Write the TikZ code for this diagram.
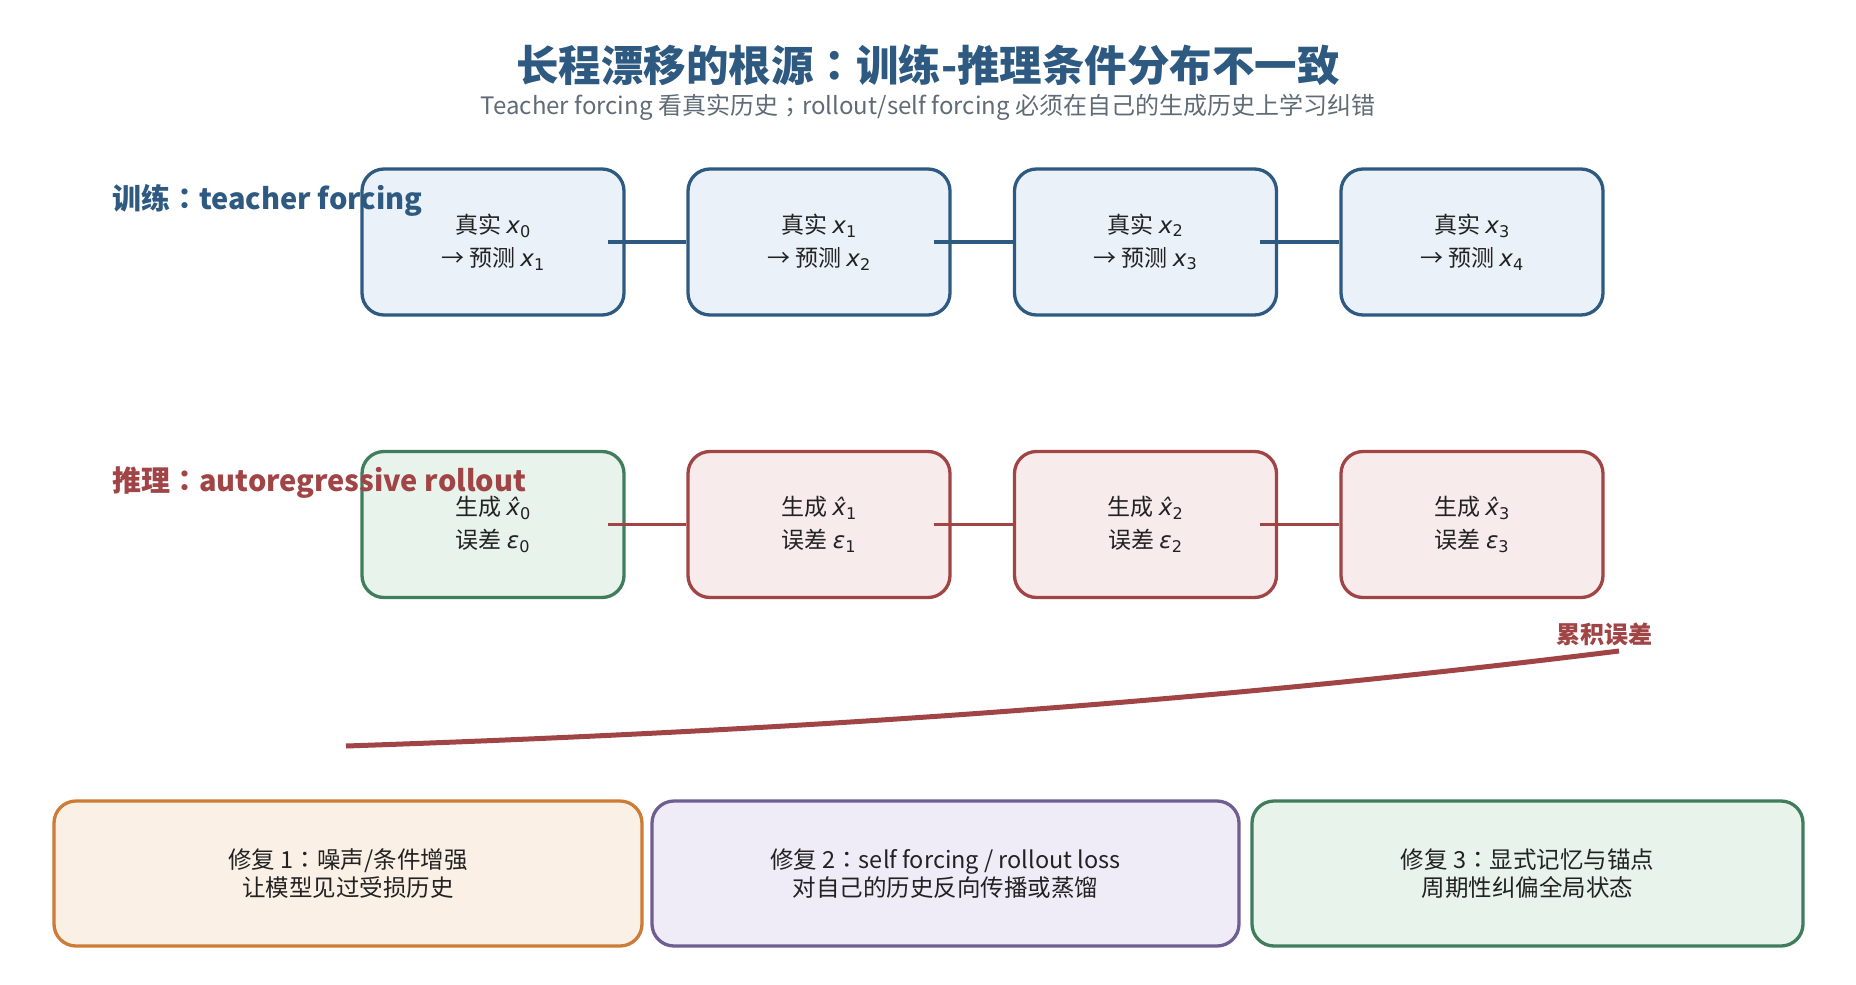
\documentclass[tikz,border=0pt]{standalone}
\usepackage{fontspec}
\setmainfont{Noto Sans CJK SC}
\newfontfamily\tcf{Noto Sans CJK TC}
\newfontfamily\dvs{DejaVu Sans}
\usetikzlibrary{arrows.meta}
\definecolor{tblue}{HTML}{2E5A82}
\definecolor{subgray}{HTML}{5F6B76}
\definecolor{tred}{HTML}{A04446}
\definecolor{bluefill}{HTML}{EAF1F8}
\definecolor{tgreen}{HTML}{3F7D5C}
\definecolor{greenfill}{HTML}{E8F3EB}
\definecolor{redfill}{HTML}{F8EBEB}
\definecolor{torange}{HTML}{CE7B35}
\definecolor{orangefill}{HTML}{FAF0E6}
\definecolor{tpurple}{HTML}{6E5E92}
\definecolor{purplefill}{HTML}{EFECF7}
\definecolor{txt}{HTML}{222222}
\newcommand{\vx}[1]{{\dvs\itshape x}\textsubscript{\dvs #1}}
\newcommand{\hx}[1]{{\dvs\itshape x̂}\textsubscript{\dvs #1}}
\newcommand{\veps}[1]{{\dvs\itshape ε}\textsubscript{\dvs #1}}
\newcommand{\myco}{{\tcf ：}}
\newcommand{\mysc}{{\tcf ；}}
\tikzset{
  stepbox/.style={draw, line width=3.3pt, rounded corners=22pt, minimum width=262pt, minimum height=146pt, inner sep=0pt, align=center, text=txt, font=\fontsize{23}{33}\selectfont},
  fixbox/.style={draw, line width=3.3pt, rounded corners=22pt, minimum height=145pt, inner sep=0pt, align=center, text=txt, font=\fontsize{23.5}{28}\selectfont},
  conn/.style={line width=3.5pt},
  rowlabel/.style={anchor=west, inner sep=0pt, font=\fontsize{29}{32}\selectfont\bfseries},
}
\begin{document}
\begin{tikzpicture}[x=1pt, y=-1pt]
\useasboundingbox (0,0) rectangle (1856,985);

\node[font=\fontsize{42.5}{46}\selectfont\bfseries, text=tblue] (title) at (928,65) {长程漂移的根源\myco 训练-推理条件分布不一致};
\node[font=\fontsize{24}{26}\selectfont, text=subgray] (sub) at (928,107) {Teacher forcing 看真实历史\mysc rollout/self forcing 必须在自己的生成历史上学习纠错};

% top row
\node[stepbox, tblue, fill=bluefill, text=txt] (t0) at (493,242) {真实 \vx{0}\\→ 预测 \vx{1}};
\node[stepbox, tblue, fill=bluefill, text=txt] (t1) at (819,242) {真实 \vx{1}\\→ 预测 \vx{2}};
\node[stepbox, tblue, fill=bluefill, text=txt] (t2) at (1145.5,242) {真实 \vx{2}\\→ 预测 \vx{3}};
\node[stepbox, tblue, fill=bluefill, text=txt] (t3) at (1472,242) {真实 \vx{3}\\→ 预测 \vx{4}};
\foreach \a/\b in {t0/t1,t1/t2,t2/t3}
  \draw[conn, tblue] ([xshift=-18pt]\a.east) -- (\b.west);

% bottom row
\node[stepbox, tgreen, fill=greenfill, text=txt] (g0) at (493,524.5) {生成 \hx{0}\\误差 \veps{0}};
\node[stepbox, tred, fill=redfill, text=txt] (g1) at (819,524.5) {生成 \hx{1}\\误差 \veps{1}};
\node[stepbox, tred, fill=redfill, text=txt] (g2) at (1145.5,524.5) {生成 \hx{2}\\误差 \veps{2}};
\node[stepbox, tred, fill=redfill, text=txt] (g3) at (1472,524.5) {生成 \hx{3}\\误差 \veps{3}};
\foreach \a/\b in {g0/g1,g1/g2,g2/g3}
  \draw[conn, tred] ([xshift=-18pt]\a.east) -- (\b.west);

\node[rowlabel, text=tblue] (lab1) at (112,200) {训练\myco teacher forcing};
\node[rowlabel, text=tred] (lab2) at (112,483) {推理\myco autoregressive rollout};

% accumulated error curve
\coordinate (cs) at (346,746);
\coordinate (ce) at (1619,651);
\draw[line width=5pt, tred] (cs) .. controls (790,731) and (1200,703) .. (ce);
\node[font=\fontsize{24}{26}\selectfont\bfseries, text=tred] (acc) at (1604,634) {累积误差};

% fixes
\node[fixbox, torange, fill=orangefill, minimum width=588pt, text=txt] (f1) at (348,873.5) {修复 1\myco 噪声/条件增强\\让模型见过受损历史};
\node[fixbox, tpurple, fill=purplefill, minimum width=587pt, text=txt] (f2) at (945.5,873.5) {修复 2\myco self forcing / rollout loss\\对自己的历史反向传播或蒸馏};
\node[fixbox, tgreen, fill=greenfill, minimum width=551pt, text=txt] (f3) at (1527.5,873.5) {修复 3\myco 显式记忆与锚点\\周期性纠偏全局状态};
\end{tikzpicture}
\end{document}
